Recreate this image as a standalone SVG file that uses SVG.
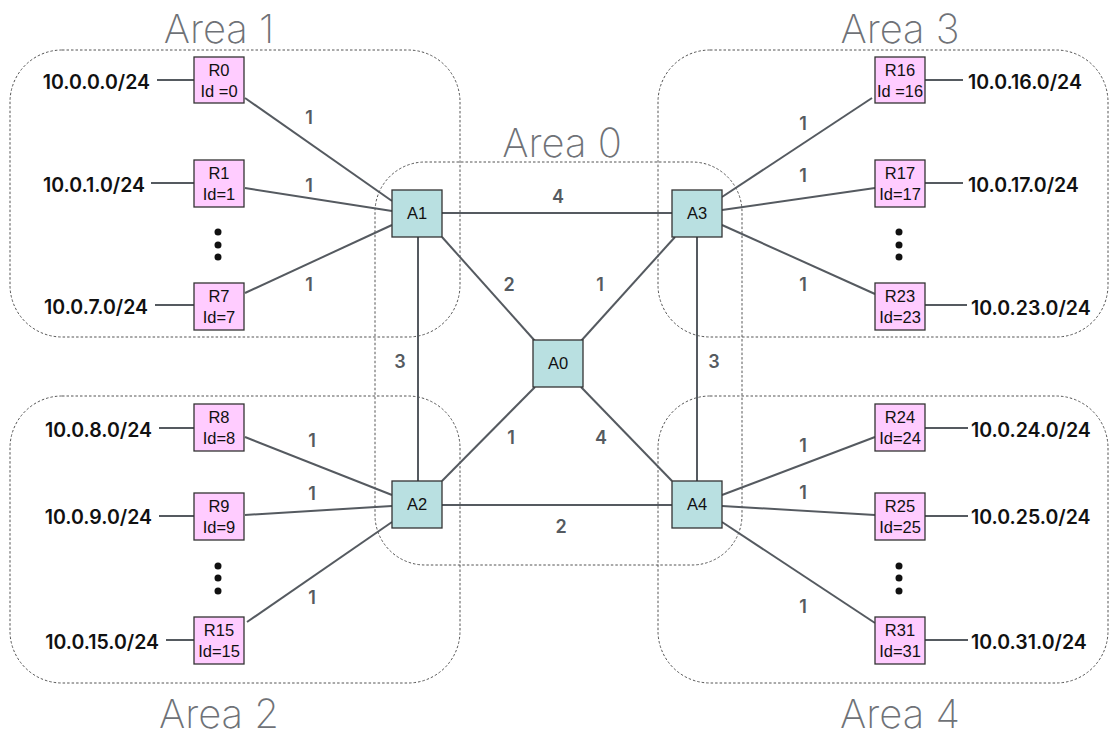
<svg xmlns="http://www.w3.org/2000/svg" width="1110" height="738" viewBox="0 0 1110 738">
<style>
.area{fill:none;stroke:#555;stroke-width:1;stroke-dasharray:2.5,2}
.atitle{font-family:Inter,"Liberation Sans",sans-serif;font-weight:200;font-size:40px;fill:#6f7277}
.r rect{fill:#ffccff;stroke:#333;stroke-width:1.3}
.a rect{fill:#b9e0e1;stroke:#333;stroke-width:1.3}
.nt{font-family:"Liberation Sans",Arial,sans-serif;font-size:16.5px;fill:#111;text-anchor:middle}
.sub{font-family:Inter,"Liberation Sans",sans-serif;font-weight:600;font-size:19.5px;fill:#111}
.w{font-family:Inter,"Liberation Sans",sans-serif;font-weight:600;font-size:18px;fill:#555a60;text-anchor:middle}
.c line{stroke:#555a60;stroke-width:2}
.dot{fill:#111}
</style>
<g id="areas">
<rect id="area1" class="area" x="10" y="50" width="450" height="287" rx="52"/>
<rect id="area2" class="area" x="10" y="396" width="450" height="287" rx="52"/>
<rect id="area3" class="area" x="658" y="50" width="450" height="287" rx="52"/>
<rect id="area4" class="area" x="658" y="396" width="450" height="287" rx="52"/>
<rect id="area0" class="area" x="375" y="162" width="367" height="403" rx="50"/>
<text class="atitle" x="219" y="43" text-anchor="middle">Area 1</text>
<text class="atitle" x="900" y="43" text-anchor="middle">Area 3</text>
<text class="atitle" x="562" y="157" text-anchor="middle">Area 0</text>
<text class="atitle" x="219" y="728" text-anchor="middle">Area 2</text>
<text class="atitle" x="900" y="728" text-anchor="middle">Area 4</text>
</g>
<g id="connectors" class="c">
<line x1="157" y1="80" x2="194" y2="80"/>
<line x1="151" y1="183" x2="194" y2="183"/>
<line x1="155" y1="305" x2="194" y2="305"/>
<line x1="159" y1="428" x2="194" y2="428"/>
<line x1="159" y1="516" x2="194" y2="516"/>
<line x1="166" y1="640" x2="194" y2="640"/>
<line x1="925" y1="80" x2="963" y2="80"/>
<line x1="925" y1="183" x2="963" y2="183"/>
<line x1="925" y1="305" x2="967" y2="305"/>
<line x1="925" y1="428" x2="968" y2="428"/>
<line x1="925" y1="516" x2="968" y2="516"/>
<line x1="925" y1="640" x2="968" y2="640"/>
<line x1="245" y1="98" x2="392" y2="201"/>
<line x1="245" y1="188" x2="392" y2="211"/>
<line x1="245" y1="293" x2="392" y2="225"/>
<line x1="245" y1="437" x2="392" y2="495"/>
<line x1="245" y1="515" x2="392" y2="506"/>
<line x1="247" y1="622" x2="392" y2="522"/>
<line x1="722" y1="197" x2="872" y2="98"/>
<line x1="722" y1="210" x2="875" y2="188"/>
<line x1="722" y1="225" x2="875" y2="294"/>
<line x1="722" y1="495" x2="875" y2="437"/>
<line x1="722" y1="506" x2="875" y2="515"/>
<line x1="722" y1="522" x2="875" y2="623"/>
<line x1="442" y1="213" x2="672" y2="213"/>
<line x1="442" y1="505" x2="672" y2="505"/>
<line x1="418" y1="237" x2="418" y2="481"/>
<line x1="697" y1="237" x2="697" y2="481"/>
<line x1="442" y1="237" x2="535" y2="341"/>
<line x1="675" y1="237" x2="581" y2="341"/>
<line x1="535" y1="387" x2="442" y2="481"/>
<line x1="581" y1="387" x2="672" y2="481"/>
</g>
<g id="weights">
<text class="w" x="309" y="124">1</text>
<text class="w" x="309" y="192">1</text>
<text class="w" x="309" y="291">1</text>
<text class="w" x="312" y="447">1</text>
<text class="w" x="312" y="500">1</text>
<text class="w" x="312" y="604">1</text>
<text class="w" x="803" y="130">1</text>
<text class="w" x="803" y="182">1</text>
<text class="w" x="803" y="291">1</text>
<text class="w" x="803" y="452">1</text>
<text class="w" x="803" y="499">1</text>
<text class="w" x="803" y="613">1</text>
<text class="w" x="558" y="203">4</text>
<text class="w" x="509" y="291">2</text>
<text class="w" x="600" y="291">1</text>
<text class="w" x="400" y="368">3</text>
<text class="w" x="714" y="368">3</text>
<text class="w" x="511" y="444">1</text>
<text class="w" x="601" y="444">4</text>
<text class="w" x="561" y="533">2</text>
</g>
<g id="subnets">
<text class="sub" x="150" y="89" text-anchor="end">10.0.0.0/24</text>
<text class="sub" x="145" y="192" text-anchor="end">10.0.1.0/24</text>
<text class="sub" x="148" y="314" text-anchor="end">10.0.7.0/24</text>
<text class="sub" x="152" y="437" text-anchor="end">10.0.8.0/24</text>
<text class="sub" x="152" y="524" text-anchor="end">10.0.9.0/24</text>
<text class="sub" x="159" y="649" text-anchor="end">10.0.15.0/24</text>
<text class="sub" x="968" y="89">10.0.16.0/24</text>
<text class="sub" x="968" y="192">10.0.17.0/24</text>
<text class="sub" x="971" y="315">10.0.23.0/24</text>
<text class="sub" x="971" y="437">10.0.24.0/24</text>
<text class="sub" x="971" y="524">10.0.25.0/24</text>
<text class="sub" x="971" y="649">10.0.31.0/24</text>
</g>
<g id="ellipses">
<circle class="dot" cx="218" cy="232" r="3.5"/><circle class="dot" cx="218" cy="245" r="3.5"/><circle class="dot" cx="218" cy="257" r="3.5"/>
<circle class="dot" cx="218" cy="566" r="3.5"/><circle class="dot" cx="218" cy="578" r="3.5"/><circle class="dot" cx="218" cy="591" r="3.5"/>
<circle class="dot" cx="899" cy="232" r="3.5"/><circle class="dot" cx="899" cy="245" r="3.5"/><circle class="dot" cx="899" cy="257" r="3.5"/>
<circle class="dot" cx="899" cy="566" r="3.5"/><circle class="dot" cx="899" cy="578" r="3.5"/><circle class="dot" cx="899" cy="591" r="3.5"/>
</g>
<g id="R0" class="r"><rect x="194" y="57" width="50" height="46"/><text class="nt" x="219" y="76">R0</text><text class="nt" x="219" y="97">Id =0</text></g>
<g id="R1" class="r"><rect x="194" y="160" width="50" height="47"/><text class="nt" x="219" y="179">R1</text><text class="nt" x="219" y="200">Id=1</text></g>
<g id="R7" class="r"><rect x="194" y="283" width="50" height="47"/><text class="nt" x="219" y="302">R7</text><text class="nt" x="219" y="323">Id=7</text></g>
<g id="R8" class="r"><rect x="194" y="404" width="50" height="47"/><text class="nt" x="219" y="423">R8</text><text class="nt" x="219" y="444">Id=8</text></g>
<g id="R9" class="r"><rect x="194" y="493" width="50" height="47"/><text class="nt" x="219" y="512">R9</text><text class="nt" x="219" y="533">Id=9</text></g>
<g id="R15" class="r"><rect x="194" y="617" width="50" height="47"/><text class="nt" x="219" y="636">R15</text><text class="nt" x="219" y="657">Id=15</text></g>
<g id="R16" class="r"><rect x="875" y="57" width="50" height="46"/><text class="nt" x="900" y="76">R16</text><text class="nt" x="900" y="97" textLength="46" lengthAdjust="spacingAndGlyphs">Id =16</text></g>
<g id="R17" class="r"><rect x="875" y="160" width="50" height="47"/><text class="nt" x="900" y="179">R17</text><text class="nt" x="900" y="200">Id=17</text></g>
<g id="R23" class="r"><rect x="875" y="283" width="50" height="47"/><text class="nt" x="900" y="302">R23</text><text class="nt" x="900" y="323">Id=23</text></g>
<g id="R24" class="r"><rect x="875" y="404" width="50" height="47"/><text class="nt" x="900" y="423">R24</text><text class="nt" x="900" y="444">Id=24</text></g>
<g id="R25" class="r"><rect x="875" y="493" width="50" height="47"/><text class="nt" x="900" y="512">R25</text><text class="nt" x="900" y="533">Id=25</text></g>
<g id="R31" class="r"><rect x="875" y="617" width="50" height="47"/><text class="nt" x="900" y="636">R31</text><text class="nt" x="900" y="657">Id=31</text></g>
<g id="A1" class="a"><rect x="392" y="190" width="50" height="47"/><text class="nt" x="417" y="219">A1</text></g>
<g id="A3" class="a"><rect x="672" y="190" width="50" height="47"/><text class="nt" x="697" y="219">A3</text></g>
<g id="A0" class="a"><rect x="533" y="340" width="50" height="47"/><text class="nt" x="558" y="369">A0</text></g>
<g id="A2" class="a"><rect x="392" y="481" width="50" height="47"/><text class="nt" x="417" y="510">A2</text></g>
<g id="A4" class="a"><rect x="672" y="481" width="50" height="47"/><text class="nt" x="697" y="510">A4</text></g>
</svg>
